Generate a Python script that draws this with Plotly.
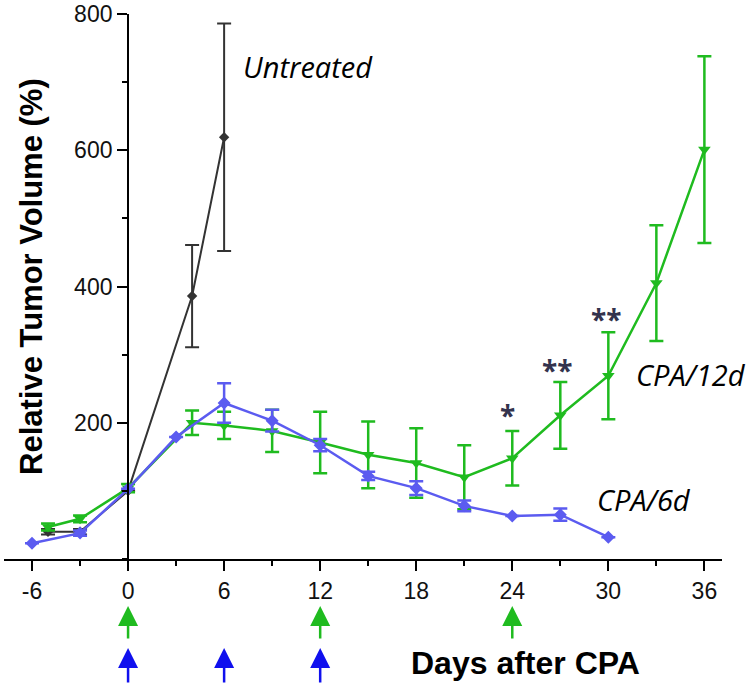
import plotly.graph_objects as go

# ---- data ----
untreated_days = [-5, -3, 0, 4, 6]
untreated_vals = [40, 40, 100, 386, 619]
untreated_err = [4, 4, 0, 75, 167]

cpa12_days = [-5, -3, 0, 4, 6, 9, 12, 15, 18, 21, 24, 27, 30, 33, 36]
cpa12_vals = [47, 59, 104, 200, 196, 188, 171, 153, 141, 120, 148, 211, 269, 405, 601]
cpa12_err = [5, 5, 6, 18, 20, 31, 45, 49, 51, 47, 40, 49, 64, 85, 137]

cpa6_days = [-6, -3, 0, 3, 6, 9, 12, 15, 18, 21, 24, 27, 30]
cpa6_vals = [23, 38, 103, 179, 229, 203, 167, 122, 104, 78, 63, 65, 32]
cpa6_err = [0, 4, 0, 0, 29, 16, 9, 6, 10, 8, 0, 9, 0]

xtick_vals = [-6, 0, 6, 12, 18, 24, 30, 36]
ytick_vals = [200, 400, 600, 800]

cpa12_dose_days = [0, 12, 24]
cpa6_dose_days = [0, 6, 12]

stars = [("*", 23.7, 212), ("**", 26.8, 278), ("**", 29.9, 352)]

BLACK = "#333333"
GREEN = "#1fbb1f"
BLUE = "#5b5bf0"

fig = go.Figure()

fig.add_trace(go.Scatter(
    x=untreated_days, y=untreated_vals, mode="lines+markers",
    line=dict(color=BLACK, width=2),
    marker=dict(symbol="diamond", size=8, color=BLACK),
    error_y=dict(type="data", array=untreated_err, color=BLACK, thickness=2, width=7),
    showlegend=False))

fig.add_trace(go.Scatter(
    x=cpa12_days, y=cpa12_vals, mode="lines+markers",
    line=dict(color=GREEN, width=2.5),
    marker=dict(symbol="triangle-down", size=11, color=GREEN),
    error_y=dict(type="data", array=cpa12_err, color=GREEN, thickness=2.5, width=7),
    showlegend=False))

fig.add_trace(go.Scatter(
    x=cpa6_days, y=cpa6_vals, mode="lines+markers",
    line=dict(color=BLUE, width=2.5),
    marker=dict(symbol="diamond", size=10, color=BLUE),
    error_y=dict(type="data", array=cpa6_err, color=BLUE, thickness=2.5, width=7),
    showlegend=False))

x0, x1 = -7.75, 37.1
ypos = (0 - x0) / (x1 - x0)

tickfont = dict(family="Liberation Sans, Arial", size=23, color="#111111")

fig.update_layout(
    width=750, height=686,
    margin=dict(l=4, r=28, t=14, b=127, autoexpand=False),
    paper_bgcolor="white", plot_bgcolor="white",
    xaxis=dict(range=[x0, x1], tickvals=xtick_vals, ticktext=[str(v) for v in xtick_vals],
               ticks="outside", ticklen=10, tickwidth=2, tickcolor="black",
               showline=True, linecolor="black", linewidth=2,
               showgrid=False, zeroline=False, tickfont=tickfont, automargin=False,
               minor=dict(dtick=3, tick0=0, ticks="outside", ticklen=5, tickwidth=2, tickcolor="black")),
    yaxis=dict(range=[0, 800], tickvals=ytick_vals, ticks="outside", ticklen=10, tickwidth=2,
               tickcolor="black", showline=True, linecolor="black", linewidth=2,
               showgrid=False, zeroline=False, tickfont=tickfont, automargin=False,
               anchor="free", position=ypos,
               minor=dict(dtick=100, tick0=0, ticks="outside", ticklen=5, tickwidth=2, tickcolor="black")),
)

ann = []
italic = dict(family="Open Sans", size=29, color="black", style="italic")
ann.append(dict(x=11.25, y=723, xref="x", yref="y", text="<i>Untreated</i>", showarrow=False, font=italic))
ann.append(dict(x=35.15, y=271, xref="x", yref="y", text="<i>CPA/12d</i>", showarrow=False, font=italic))
ann.append(dict(x=32.2, y=88, xref="x", yref="y", text="<i>CPA/6d</i>", showarrow=False, font=italic))
for s, sx, sy in stars:
    ann.append(dict(x=sx, y=sy, xref="x", yref="y", text="<b>" + s + "</b>", showarrow=False,
                    font=dict(family="Open Sans", size=28, color="#33334d")))

ann.append(dict(x=(31 - 4) / 718.0, y=(559 - 277) / 545.0, xref="paper", yref="paper",
                xanchor="center", yanchor="middle",
                text="<b>Relative Tumor Volume (%)</b>", textangle=-90, showarrow=False,
                font=dict(family="Liberation Sans, Arial", size=31, color="black")))
ann.append(dict(x=(525 - 128) / 16.0, y=(559 - 663) / 545.0, xref="x", yref="paper",
                xanchor="center", yanchor="middle",
                text="<b>Days after CPA</b>", showarrow=False,
                font=dict(family="Liberation Sans, Arial", size=32, color="black")))

for d in cpa12_dose_days:
    ann.append(dict(x=d, y=(559 - 606) / 545.0, xref="x", yref="paper", text="", showarrow=True,
                    ax=0, ay=34, arrowhead=2, arrowsize=1.6, arrowwidth=2.5, arrowcolor=GREEN, standoff=0))
for d in cpa6_dose_days:
    ann.append(dict(x=d, y=(559 - 648) / 545.0, xref="x", yref="paper", text="", showarrow=True,
                    ax=0, ay=36, arrowhead=2, arrowsize=1.6, arrowwidth=2.5, arrowcolor="#1010ee", standoff=0))

fig.update_layout(annotations=ann)
fig.write_html("out.html", config={"displayModeBar": False},
               post_script="document.body.style.margin='0';document.body.style.overflow='hidden';")
